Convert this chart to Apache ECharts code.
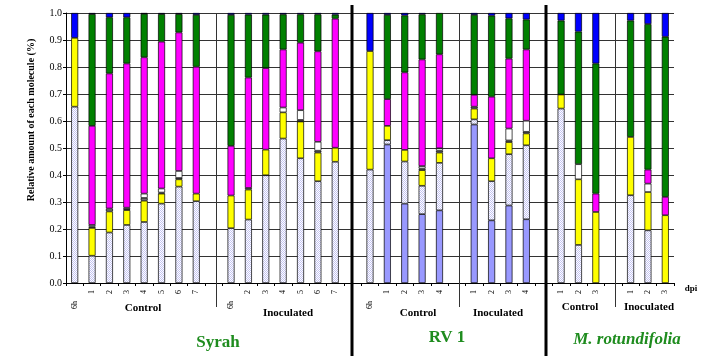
<!DOCTYPE html>
<html>
<head>
<meta charset="utf-8">
<script src="https://cdn.jsdelivr.net/npm/echarts@6/dist/echarts.min.js"></script>
<style>html,body{margin:0;padding:0;background:#fff}#c{width:708px;height:356px}</style>
</head>
<body>
<div id="c"></div>
<script>
// Categories (empty strings are gaps between groups)
var categories = ['6h','1','2','3','4','5','6','7','',
                  '6h','2','3','4','5','6','7','',
                  '6h','1','2','3','4','',
                  '1','2','3','4','',
                  '1','2','3','',
                  '1','2','3'];
// Series values (fractions), bottom to top
var periwinkle = [0,0,0,0,0,0,0,0,null, 0,0,0,0,0,0,0,null, 0,.513,.294,.255,.269,null, .587,.232,.287,.236,null, 0,0,0,null, 0,0,0];
var dotted     = [.653,.101,.187,.215,.226,.294,.357,.303,null, .203,.235,.399,.535,.462,.377,.449,null, .42,.016,.156,.105,.176,null, .019,.145,.190,.274,null, .646,.141,0,null, .325,.195,0];
var yellow     = [.255,.103,.078,.055,.079,.037,.027,.028,null, .121,.111,.095,.097,.136,.106,.052,null, .439,.053,.043,.058,.038,null, .040,.085,.045,.044,null, .052,.243,.263,null, .216,.142,.251];
var gray       = [0,.005,.011,.004,.010,.004,.005,0,null, 0,.006,0,0,.006,.007,0,null, 0,0,0,.006,.007,null, .007,0,.006,.006,null, 0,0,0,null, 0,0,0];
var white      = [0,.006,0,.005,.016,.015,.026,0,null, 0,0,0,.018,.036,.033,0,null, 0,0,0,.009,.009,null, 0,0,.044,.041,null, 0,.056,0,null, 0,.031,0];
var magenta    = [0,.367,.500,.534,.505,.544,.513,.470,null, .184,.409,.302,.215,.250,.335,.478,null, 0,.099,.287,.395,.348,null, .044,.228,.259,.264,null, 0,0,.068,null, 0,.052,.068];
var green      = [0,.414,.208,.171,.161,.102,.068,.192,null, .485,.233,.198,.130,.105,.137,.015,null, 0,.312,.211,.167,.153,null, .296,.300,.149,.111,null, .274,.491,.482,null, .431,.539,.593];
var blue       = [.092,.004,.016,.016,.003,.004,.004,.007,null, .007,.006,.006,.005,.005,.005,.006,null, .141,.007,.009,.005,0,null, .007,.010,.020,.024,null, .028,.069,.187,null, .028,.041,.088];
var yTicks = [0,0.1,0.2,0.3,0.4,0.5,0.6,0.7,0.8,0.9,1.0];

var serif = '"Liberation Serif","Times New Roman",serif';
// dotted fill pattern
var pc = document.createElement('canvas'); pc.width = 2; pc.height = 2;
var pctx = pc.getContext('2d');
pctx.fillStyle = '#ffffff'; pctx.fillRect(0,0,2,2);
pctx.fillStyle = '#c4c4f2'; pctx.fillRect(0,0,1,1); pctx.fillRect(1,1,1,1);
var dotPattern = {image: pc, repeat: 'repeat'};

function clean(arr){ return arr.map(function(v){ return (v === 0 || v === null) ? null : v; }); }
var seriesDefs = [
  ['periwinkle', periwinkle, '#9999ff'],
  ['dotted', dotted, dotPattern],
  ['yellow', yellow, '#ffff00'],
  ['gray', gray, '#808080'],
  ['white', white, '#ffffff'],
  ['magenta', magenta, '#ff00ff'],
  ['green', green, '#008000'],
  ['blue', blue, '#0000ff']
];
var series = seriesDefs.map(function(d){
  return {
    name: d[0], type: 'bar', stack: 'all', barWidth: 7,
    data: clean(d[1]),
    itemStyle: {color: d[2], borderColor: '#000', borderWidth: 0.7},
    emphasis: {disabled: true},
    animation: false
  };
});

var chart = echarts.init(document.getElementById('c'), null, {renderer: 'canvas'});
chart.setOption({
  animation: false,
  grid: {left: 66, right: 34, top: 13, bottom: 73, containLabel: false},
  xAxis: {
    type: 'category', data: categories, boundaryGap: true,
    axisLine: {lineStyle: {color: '#000', width: 1}},
    axisTick: {show: true, length: 3, lineStyle: {color: '#000'}},
    axisLabel: {
      rotate: 90, fontSize: 8, fontFamily: serif, color: '#000', margin: 7, interval: 0,
      formatter: function(v){ return v === '6h' ? '{a|6h}' : v; },
      rich: {a: {fontSize: 8, fontFamily: serif, color: '#000', padding: [0, 11, 0, 0]}}
    },
    splitLine: {show: false}
  },
  yAxis: {
    type: 'value', min: 0, max: 1, interval: 0.1,
    axisLine: {show: true, lineStyle: {color: '#000'}},
    axisTick: {show: true, length: 3, lineStyle: {color: '#000'}},
    axisLabel: {fontSize: 10, fontFamily: serif, color: '#000', margin: 4,
      formatter: function(v){ return v.toFixed(1); }},
    splitLine: {show: true, lineStyle: {color: '#333', width: 1}}
  },
  series: series
});

// separators & group labels
var yTop = chart.convertToPixel({yAxisIndex: 0}, 1);
var gfx = [];
function xAt(i){ return chart.convertToPixel({xAxisIndex: 0}, i); }
[8, 22, 31].forEach(function(i){
  var x = Math.round(xAt(i) + 2) + 0.5;
  gfx.push({type: 'line', shape: {x1: x, y1: yTop, x2: x, y2: 307}, style: {stroke: '#333', lineWidth: 1}, z: 10});
});
[[16, -1], [27, 2]].forEach(function(p){
  var x = Math.round(xAt(p[0]) + p[1]);
  gfx.push({type: 'line', shape: {x1: x, y1: 5, x2: x, y2: 356}, style: {stroke: '#000', lineWidth: 3}, z: 10});
});
function txt(t, x, y, size, color, italic, rot){
  gfx.push({type: 'text', x: x, y: y, z: 10, rotation: rot || 0, style: {text: t, fill: color, font: (italic ? 'italic ' : '') + 'bold ' + size + 'px ' + serif, textAlign: 'center', textVerticalAlign: 'middle'}});
}
txt('Relative amount of each molecule (%)', 31, 120, 10, '#000', false, Math.PI / 2);
txt('Control', 143, 308, 11, '#000');
txt('Inoculated', 288, 313, 11, '#000');
txt('Control', 418, 313, 11, '#000');
txt('Inoculated', 498, 313, 11, '#000');
txt('Control', 580, 307, 11, '#000');
txt('Inoculated', 649, 307, 11, '#000');
txt('dpi', 691, 289, 9, '#000');
txt('Syrah', 218, 343, 17, '#1e8c1e');
txt('RV 1', 447, 338, 17, '#1e8c1e');
txt('M. rotundifolia', 627, 340, 17, '#1e8c1e', true);
chart.setOption({graphic: gfx});
</script>
</body>
</html>
